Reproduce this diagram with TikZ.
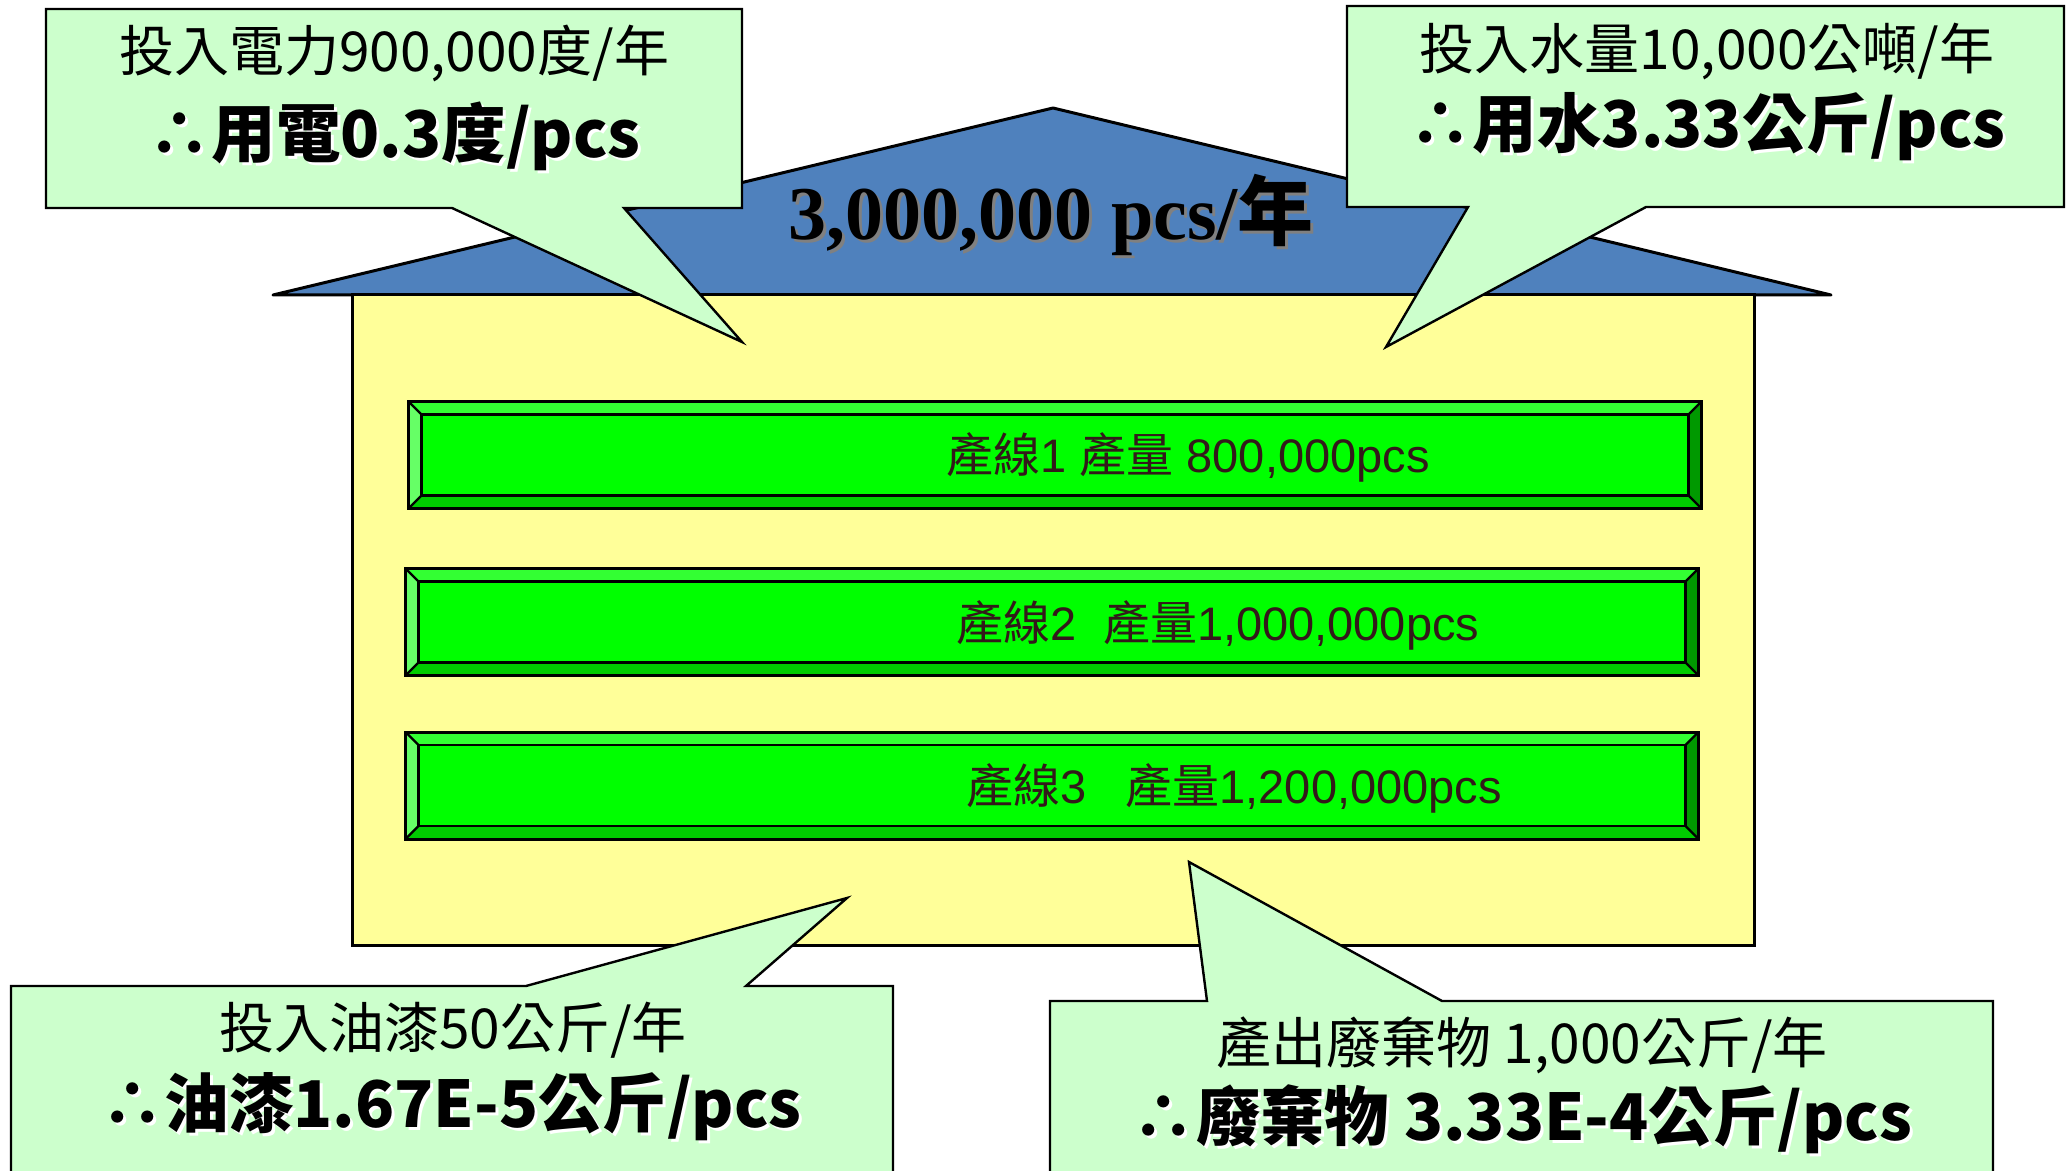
\documentclass[tikz,border=0pt]{standalone}
\usepackage{fontspec}
\usepackage{xcolor}
\usepackage{tikz}
\setmainfont{Liberation Sans}
\newfontfamily\cjk{Noto Sans CJK TC}
\newfontfamily\titlefont{Liberation Serif}
\definecolor{calloutgreen}{HTML}{CCFFCC}
\definecolor{roofblue}{HTML}{4F81BD}
\definecolor{wallyellow}{HTML}{FFFF99}
\definecolor{barface}{HTML}{00FF00}
\definecolor{bevtop}{HTML}{33FF33}
\definecolor{bevleft}{HTML}{66FF66}
\definecolor{bevbottom}{HTML}{00CC00}
\definecolor{bevright}{HTML}{009900}
\definecolor{bartext}{HTML}{331A1A}
% text with a soft offset shadow
\newcommand\glowtext[2]{\leavevmode\rlap{\kern1.5pt\raisebox{-1.5pt}{\color{#1}#2}}#2}

\begin{document}
\begin{tikzpicture}[x=0.5pt, y=-0.5pt, line join=miter,
  callout/.style={draw, line width=1.2pt, fill=calloutgreen},
  smalltxt/.style={anchor=base, inner sep=0pt, font=\cjk\fontsize{27.5}{32}\selectfont},
  bigtxt/.style={anchor=base, inner sep=0pt, font=\cjk\bfseries\fontsize{32.2}{38}\selectfont},
  prodbar/.style={draw, line width=1.5pt, fill=barface, minimum width=645pt, minimum height=52pt, inner sep=0pt},
  bartxt/.style={anchor=base, inner sep=0pt, text=bartext, font=\fontsize{23.5}{28}\selectfont}]
  \useasboundingbox (0,0) rectangle (2066,1171);
  \clip (0,0) rectangle (2066,1171);
  % house: roof and wall
  \draw[line width=1.5pt, line join=round, fill=roofblue] (273,295) -- (1053,108) -- (1831,295) -- cycle;
  \draw[line width=1.5pt, fill=wallyellow] (352,295) rectangle (1754,945);
  \node[anchor=base, inner sep=0pt, font=\titlefont\bfseries\fontsize{38}{44}\selectfont] (title) at (1051,240)
    {\glowtext{gray}{3,000,000 pcs/{\cjk 年}}};
  % production lines, bevelled bars
  \node[prodbar] (bar1) at (1055,455) {};
  \node[prodbar] (bar2) at (1052,622) {};
  \node[prodbar] (bar3) at (1052,785.5) {};
  \foreach \b in {bar1,bar2,bar3}{
    \coordinate (inw) at ([shift={(6.5pt,-6.5pt)}]\b.north west);
    \coordinate (ine) at ([shift={(-6.5pt,-6.5pt)}]\b.north east);
    \coordinate (ise) at ([shift={(-6.5pt,6.5pt)}]\b.south east);
    \coordinate (isw) at ([shift={(6.5pt,6.5pt)}]\b.south west);
    \fill[bevtop] (\b.north west) -- (\b.north east) -- (ine) -- (inw) -- cycle;
    \fill[bevright] (\b.north east) -- (\b.south east) -- (ise) -- (ine) -- cycle;
    \fill[bevbottom] (\b.south east) -- (\b.south west) -- (isw) -- (ise) -- cycle;
    \fill[bevleft] (\b.south west) -- (\b.north west) -- (inw) -- (isw) -- cycle;
    \draw[line width=1.2pt] (inw) rectangle (ise);
    \draw[line width=1.2pt] (\b.north west) -- (inw) (\b.north east) -- (ine)
      (\b.south east) -- (ise) (\b.south west) -- (isw);
    \draw[line width=1.5pt] (\b.north west) rectangle (\b.south east);
  }
  \node[bartxt] (txt1) at (1188,473) {{\cjk 產線}1 {\cjk 產量} 800,000pcs};
  \node[bartxt] (txt2) at (1218,640) {{\cjk 產線}2\ \ {\cjk 產量}1,000,000pcs};
  \node[bartxt] (txt3) at (1234,803) {{\cjk 產線}3\ \ \ {\cjk 產量}1,200,000pcs};
  % callouts
  \draw[callout] (46,9) -- (742,9) -- (742,208) -- (624,208) -- (742,342) -- (452,208) -- (46,208) -- cycle;
  \node[smalltxt] (power) at (394,72) {投入電力900,000度/年};
  \node[bigtxt] (powerpc) at (394,158) {\glowtext{white}{∴用電0.3度/pcs}};
  \draw[callout] (1347,6) -- (2064,6) -- (2064,207) -- (1646,207) -- (1386,347) -- (1468,207) -- (1347,207) -- cycle;
  \node[smalltxt] (water) at (1707,70) {投入水量10,000公噸/年};
  \node[bigtxt] (waterpc) at (1707,148) {\glowtext{white}{∴用水3.33公斤/pcs}};
  \draw[callout] (11,986) -- (526,986) -- (847,898) -- (746,986) -- (893,986) -- (893,1190) -- (11,1190) -- cycle;
  \node[smalltxt] (paint) at (453,1048) {投入油漆50公斤/年};
  \node[bigtxt] (paintpc) at (451,1127) {\glowtext{white}{∴油漆1.67E-5公斤/pcs}};
  \draw[callout] (1050,1001) -- (1207,1001) -- (1189,862) -- (1442,1001) -- (1993,1001) -- (1993,1190) -- (1050,1190) -- cycle;
  \node[smalltxt] (waste) at (1522,1063) {產出廢棄物 1,000公斤/年};
  \node[bigtxt] (wastepc) at (1522,1140) {\glowtext{white}{∴廢棄物 3.33E-4公斤/pcs}};
\end{tikzpicture}
\end{document}
